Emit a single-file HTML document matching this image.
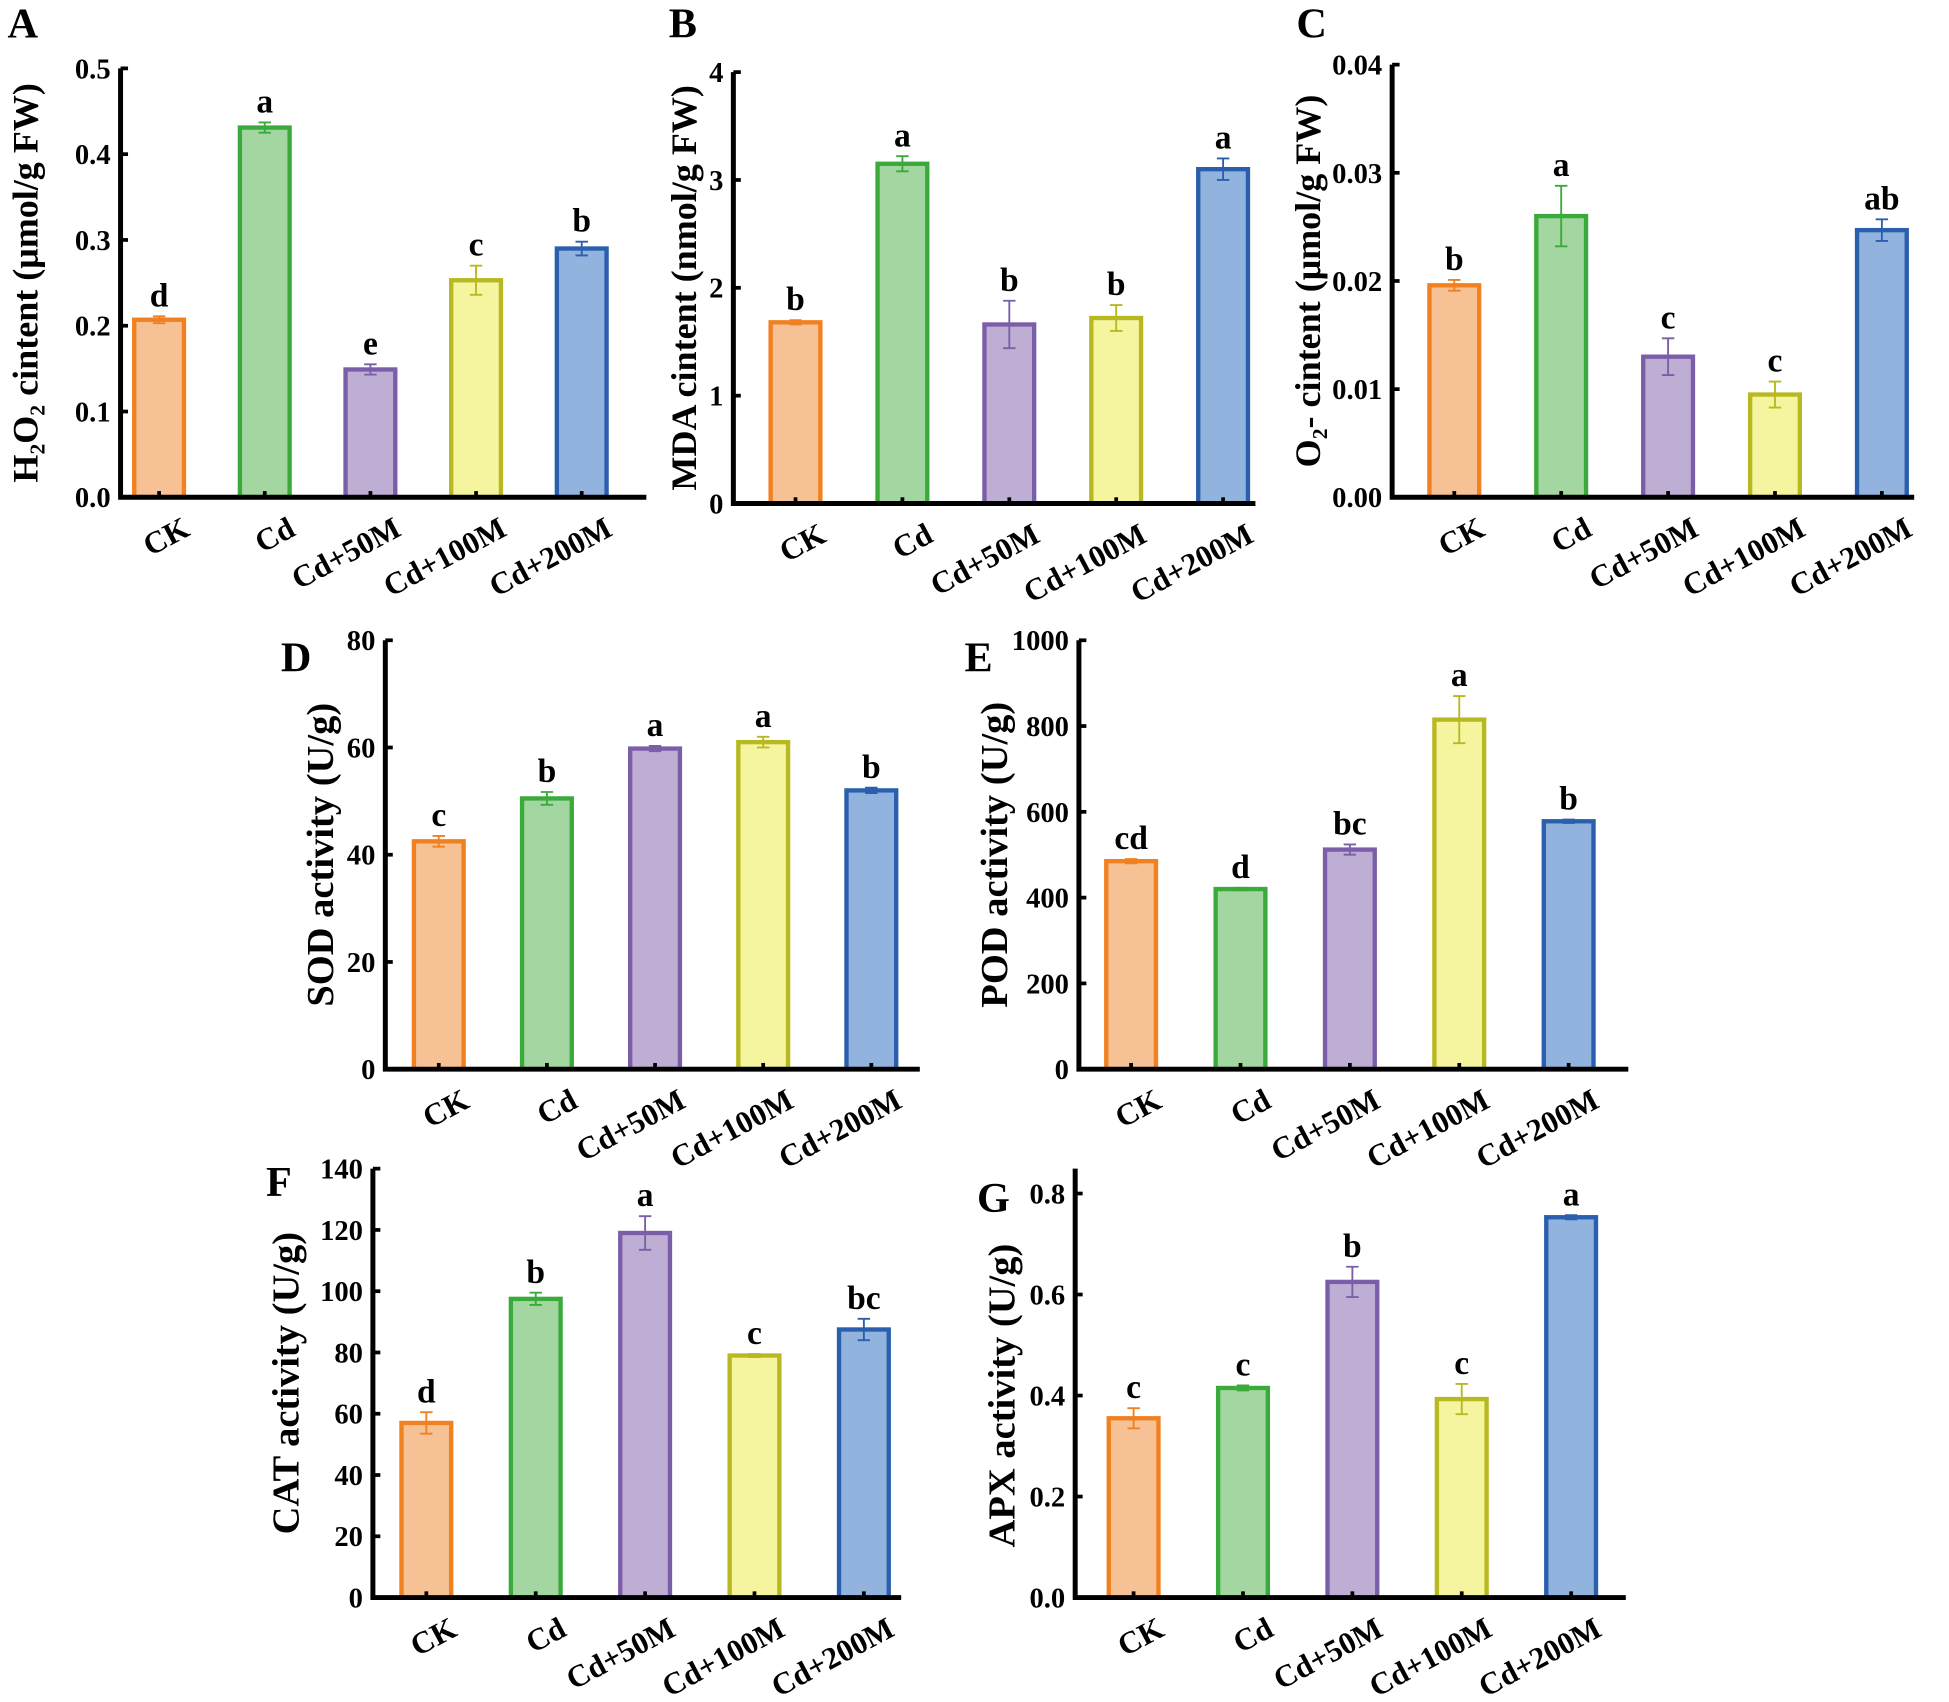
<!DOCTYPE html>
<html><head><meta charset="utf-8"><style>
html,body{margin:0;padding:0;background:#fff}
svg{display:block}
text{font-family:"Liberation Serif",serif;font-weight:bold;fill:#000}
</style></head><body>
<svg id="fig" width="1949" height="1702" viewBox="0 0 1568 1369" preserveAspectRatio="none" xmlns="http://www.w3.org/2000/svg"></svg>
<script>
const categories = ["CK","Cd","Cd+50M","Cd+100M","Cd+200M"];
const aValues = [0.207,0.431,0.149,0.253,0.290];
const aErrors = [0.004,0.006,0.006,0.017,0.008];
const aLetters = ["d","a","e","c","b"];
const aTicks = ["0.0","0.1","0.2","0.3","0.4","0.5"];
const bValues = [1.68,3.15,1.66,1.72,3.10];
const bErrors = [0.02,0.07,0.22,0.12,0.1];
const bLetters = ["b","a","b","b","a"];
const bTicks = ["0","1","2","3","4"];
const cValues = [0.0196,0.026,0.013,0.0095,0.0247];
const cErrors = [0.0005,0.0028,0.0017,0.0012,0.001];
const cLetters = ["b","a","c","c","ab"];
const cTicks = ["0.00","0.01","0.02","0.03","0.04"];
const dValues = [42.5,50.5,59.8,61,52];
const dErrors = [1,1.2,0.5,1,0.5];
const dLetters = ["c","b","a","a","b"];
const dTicks = ["0","20","40","60","80"];
const eValues = [485,420,512,815,578];
const eErrors = [5,3,12,55,4];
const eLetters = ["cd","d","bc","a","b"];
const eTicks = ["0","200","400","600","800","1000"];
const fValues = [57,97.5,119,79,87.5];
const fErrors = [3.5,2,5.5,0.5,3.5];
const fLetters = ["d","b","a","c","bc"];
const fTicks = ["0","20","40","60","80","100","120","140"];
const gValues = [0.355,0.415,0.625,0.393,0.753];
const gErrors = [0.02,0.005,0.03,0.03,0.004];
const gLetters = ["c","c","b","c","a"];
const gTicks = ["0.0","0.2","0.4","0.6","0.8"];

const strokes=["#f08020","#3aaa3a","#7b5ea8","#b8b820","#2a5fae"];
const fills=["#f5c195","#a3d6a0","#bfaed4","#f5f5a0","#93b3df"];
const NS="http://www.w3.org/2000/svg";
const svg=document.getElementById('fig');
function mk(tag,attrs,parent){const e=document.createElementNS(NS,tag);for(const k in attrs)e.setAttribute(k,attrs[k]);(parent||svg).appendChild(e);return e;}

function panel(o){
  const g=mk('g',{});
  
  
  const tickVals=o.ticks.map(Number);
  const tmax=tickVals[tickVals.length-1];
  const yScale=v=>o.yb-(v/tmax)*(o.yb-o.yt);
  const topY=o.axTop!==undefined?o.axTop:o.yt;
  const xScale=i=>o.c0+i*o.step;
  const L=mk('text',{x:o.lx,y:o.ly,'font-size':34},g);L.textContent=o.id;
  
  
  const yt=mk('text',{x:o.tx,y:(o.yt+o.yb)/2,'font-size':o.tfs||31,'text-anchor':'middle',transform:`rotate(-90 ${o.tx} ${(o.yt+o.yb)/2})`},g);
  yt.innerHTML=o.title;
  
  
  o.values.forEach((v,i)=>{
    const cx=xScale(i),y=yScale(v),w=40;
    const r=mk('rect',{x:cx-w/2,y:y,width:w,height:o.yb-y,fill:fills[i],stroke:strokes[i],'stroke-width':3.5},g);
    
    
    const e=o.errors[i],y1=yScale(v+e),y2=yScale(v-e);
    const eb=mk('path',{d:`M${cx} ${y1}V${y2}M${cx-5} ${y1}H${cx+5}M${cx-5} ${y2}H${cx+5}`,stroke:strokes[i],'stroke-width':1.5,fill:'none'},g);
    
    
    const lt=mk('text',{x:cx,y:y1-8,'font-size':27,'text-anchor':'middle'},g);lt.textContent=o.letters[i];
    
    
    mk('line',{x1:cx,x2:cx,y1:o.yb,y2:o.yb-5,stroke:'#000','stroke-width':3},g);
    const xl=mk('text',{x:cx+26,y:o.yb+30,'font-size':25,'text-anchor':'end',transform:`rotate(-28 ${cx+26} ${o.yb+30})`},g);
    xl.textContent=categories[i];
    
    
  });
  const ax=mk('path',{d:`M${o.x0} ${topY}V${o.yb}H${o.xe}`,stroke:'#000','stroke-width':4,fill:'none'},g);
  
  
  o.ticks.forEach((t,k)=>{
    const y=yScale(tickVals[k]);
    mk('line',{x1:o.x0,x2:o.x0+6,y1:y,y2:y,stroke:'#000','stroke-width':3},g);
    const tl=mk('text',{x:o.x0-8,y:y+8,'font-size':23,'text-anchor':'end'},g);tl.textContent=t;
    
    
  });
}
panel({id:'A',values:aValues,errors:aErrors,letters:aLetters,ticks:aTicks,x0:97,xe:520,yt:55,yb:400,c0:128,step:85,lx:6,ly:30,tx:30,title:'H₂O₂ cintent (μmol/g FW)',tfs:29});
panel({id:'B',values:bValues,errors:bErrors,letters:bLetters,ticks:bTicks,x0:590,xe:1010,yt:58,yb:405,c0:640,step:86,lx:538,ly:30,tx:560,title:'MDA cintent (nmol/g FW)',tfs:29});
panel({id:'C',values:cValues,errors:cErrors,letters:cLetters,ticks:cTicks,x0:1120,xe:1540,yt:52,yb:400,c0:1170,step:86,lx:1043,ly:30,tx:1062,title:'O₂- cintent (μmol/g FW)',tfs:29});
panel({id:'D',values:dValues,errors:dErrors,letters:dLetters,ticks:dTicks,x0:310,xe:740,yt:515,yb:860,c0:353,step:87,lx:226,ly:540,tx:268,title:'SOD activity (U/g)'});
panel({id:'E',values:eValues,errors:eErrors,letters:eLetters,ticks:eTicks,x0:868,xe:1310,yt:515,yb:860,c0:910,step:88,lx:776,ly:540,tx:810,title:'POD activity (U/g)'});
panel({id:'F',values:fValues,errors:fErrors,letters:fLetters,ticks:fTicks,x0:300,xe:725,yt:940,yb:1285,c0:343,step:88,lx:214,ly:962,tx:240,title:'CAT activity (U/g)'});
panel({id:'G',values:gValues,errors:gErrors,letters:gLetters,ticks:gTicks,x0:865,xe:1308,yt:960,yb:1285,axTop:940,c0:912,step:88,lx:786,ly:975,tx:816,title:'APX activity (U/g)'});
</script>
</body></html>
